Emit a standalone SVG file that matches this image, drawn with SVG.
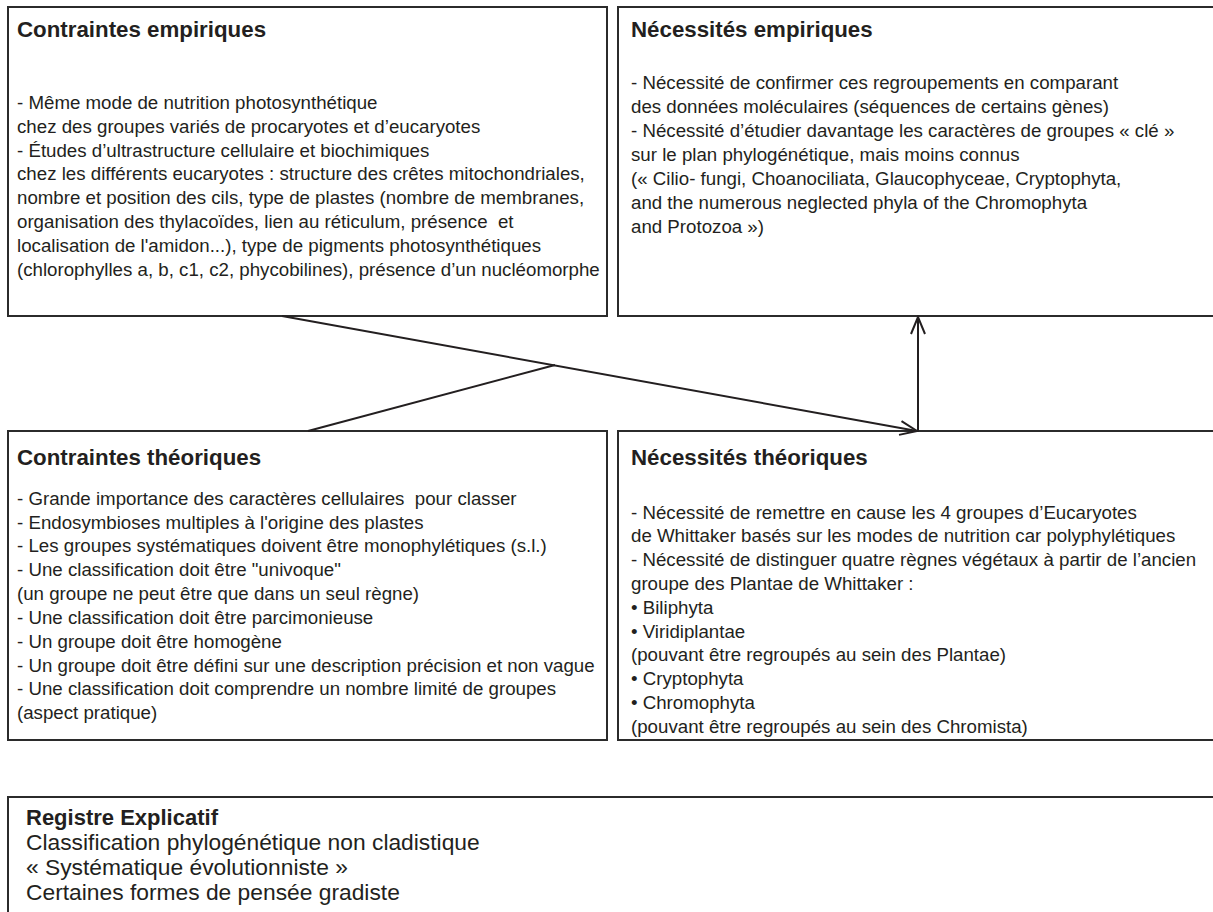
<svg xmlns="http://www.w3.org/2000/svg" width="1213" height="912" viewBox="0 0 1213 912">
<style>
.box{fill:#fff;stroke:#2b2b2b;stroke-width:2}
.t{font-family:"Liberation Sans",Arial,sans-serif;font-size:18.7px;fill:#231f20;white-space:pre}
.h{font-family:"Liberation Sans",Arial,sans-serif;font-size:22.3px;font-weight:bold;fill:#231f20}
.hs{font-size:22px}
.big{font-size:22.8px}
.conn{stroke:#231f20;stroke-width:2;fill:none}
</style>
<defs>
<marker id="arr" viewBox="-20 -10 22 20" refX="0" refY="0" markerWidth="22" markerHeight="20" markerUnits="userSpaceOnUse" orient="auto">
<path d="M-17,-7 L0,0 L-17,7" fill="none" stroke="#231f20" stroke-width="2"/>
</marker>
</defs>
<rect width="1213" height="912" fill="#fff"/>
<g id="contraintes-empiriques">
<rect class="box" x="8" y="7" width="599" height="309"/>
<text class="h" x="17" y="37">Contraintes empiriques</text>
<text class="t" x="17" y="109">- Même mode de nutrition photosynthétique</text>
<text class="t" x="17" y="133">chez des groupes variés de procaryotes et d’eucaryotes</text>
<text class="t" x="17" y="157">- Études d’ultrastructure cellulaire et biochimiques</text>
<text class="t" x="17" y="180">chez les différents eucaryotes : structure des crêtes mitochondriales,</text>
<text class="t" x="17" y="204">nombre et position des cils, type de plastes (nombre de membranes,</text>
<text class="t" x="17" y="228">organisation des thylacoïdes, lien au réticulum, présence  et</text>
<text class="t" x="17" y="252">localisation de l'amidon...), type de pigments photosynthétiques</text>
<text class="t" x="17" y="276">(chlorophylles a, b, c1, c2, phycobilines), présence d’un nucléomorphe</text>
</g>
<g id="necessites-empiriques">
<rect class="box" x="618" y="7" width="600" height="309"/>
<text class="h" x="631" y="37">Nécessités empiriques</text>
<text class="t" x="631" y="89">- Nécessité de confirmer ces regroupements en comparant</text>
<text class="t" x="631" y="113">des données moléculaires (séquences de certains gènes)</text>
<text class="t" x="631" y="137">- Nécessité d’étudier davantage les caractères de groupes « clé »</text>
<text class="t" x="631" y="161">sur le plan phylogénétique, mais moins connus</text>
<text class="t" x="631" y="185">(« Cilio- fungi, Choanociliata, Glaucophyceae, Cryptophyta,</text>
<text class="t" x="631" y="209">and the numerous neglected phyla of the Chromophyta</text>
<text class="t" x="631" y="233">and Protozoa »)</text>
</g>
<g id="contraintes-theoriques">
<rect class="box" x="8" y="431" width="599" height="309"/>
<text class="h" x="17" y="465">Contraintes théoriques</text>
<text class="t" x="17" y="505">- Grande importance des caractères cellulaires  pour classer</text>
<text class="t" x="17" y="529">- Endosymbioses multiples à l'origine des plastes</text>
<text class="t" x="17" y="552">- Les groupes systématiques doivent être monophylétiques (s.l.)</text>
<text class="t" x="17" y="576">- Une classification doit être "univoque"</text>
<text class="t" x="17" y="600">(un groupe ne peut être que dans un seul règne)</text>
<text class="t" x="17" y="624">- Une classification doit être parcimonieuse</text>
<text class="t" x="17" y="648">- Un groupe doit être homogène</text>
<text class="t" x="17" y="672">- Un groupe doit être défini sur une description précision et non vague</text>
<text class="t" x="17" y="695">- Une classification doit comprendre un nombre limité de groupes</text>
<text class="t" x="17" y="719">(aspect pratique)</text>
</g>
<g id="necessites-theoriques">
<rect class="box" x="618" y="431" width="600" height="309"/>
<text class="h" x="631" y="465">Nécessités théoriques</text>
<text class="t" x="631" y="519">- Nécessité de remettre en cause les 4 groupes d’Eucaryotes</text>
<text class="t" x="631" y="542">de Whittaker basés sur les modes de nutrition car polyphylétiques</text>
<text class="t" x="631" y="566">- Nécessité de distinguer quatre règnes végétaux à partir de l’ancien</text>
<text class="t" x="631" y="590">groupe des Plantae de Whittaker :</text>
<text class="t" x="631" y="614">• Biliphyta</text>
<text class="t" x="631" y="638">• Viridiplantae</text>
<text class="t" x="631" y="661">(pouvant être regroupés au sein des Plantae)</text>
<text class="t" x="631" y="685">• Cryptophyta</text>
<text class="t" x="631" y="709">• Chromophyta</text>
<text class="t" x="631" y="733">(pouvant être regroupés au sein des Chromista)</text>
</g>
<g id="registre-explicatif">
<rect class="box" x="8" y="797" width="1215" height="130"/>
<text class="h hs" x="26" y="825">Registre Explicatif</text>
<text class="t big" x="26" y="850">Classification phylogénétique non cladistique</text>
<text class="t big" x="26" y="875">« Systématique évolutionniste »</text>
<text class="t big" x="26" y="900">Certaines formes de pensée gradiste</text>
</g>
<g id="connectors">
<line class="conn" x1="282" y1="316" x2="917" y2="431" marker-end="url(#arr)"/>
<line class="conn" x1="308" y1="431" x2="555" y2="365"/>
<line class="conn" x1="918" y1="431" x2="918" y2="317" marker-end="url(#arr)"/>
</g>
</svg>
